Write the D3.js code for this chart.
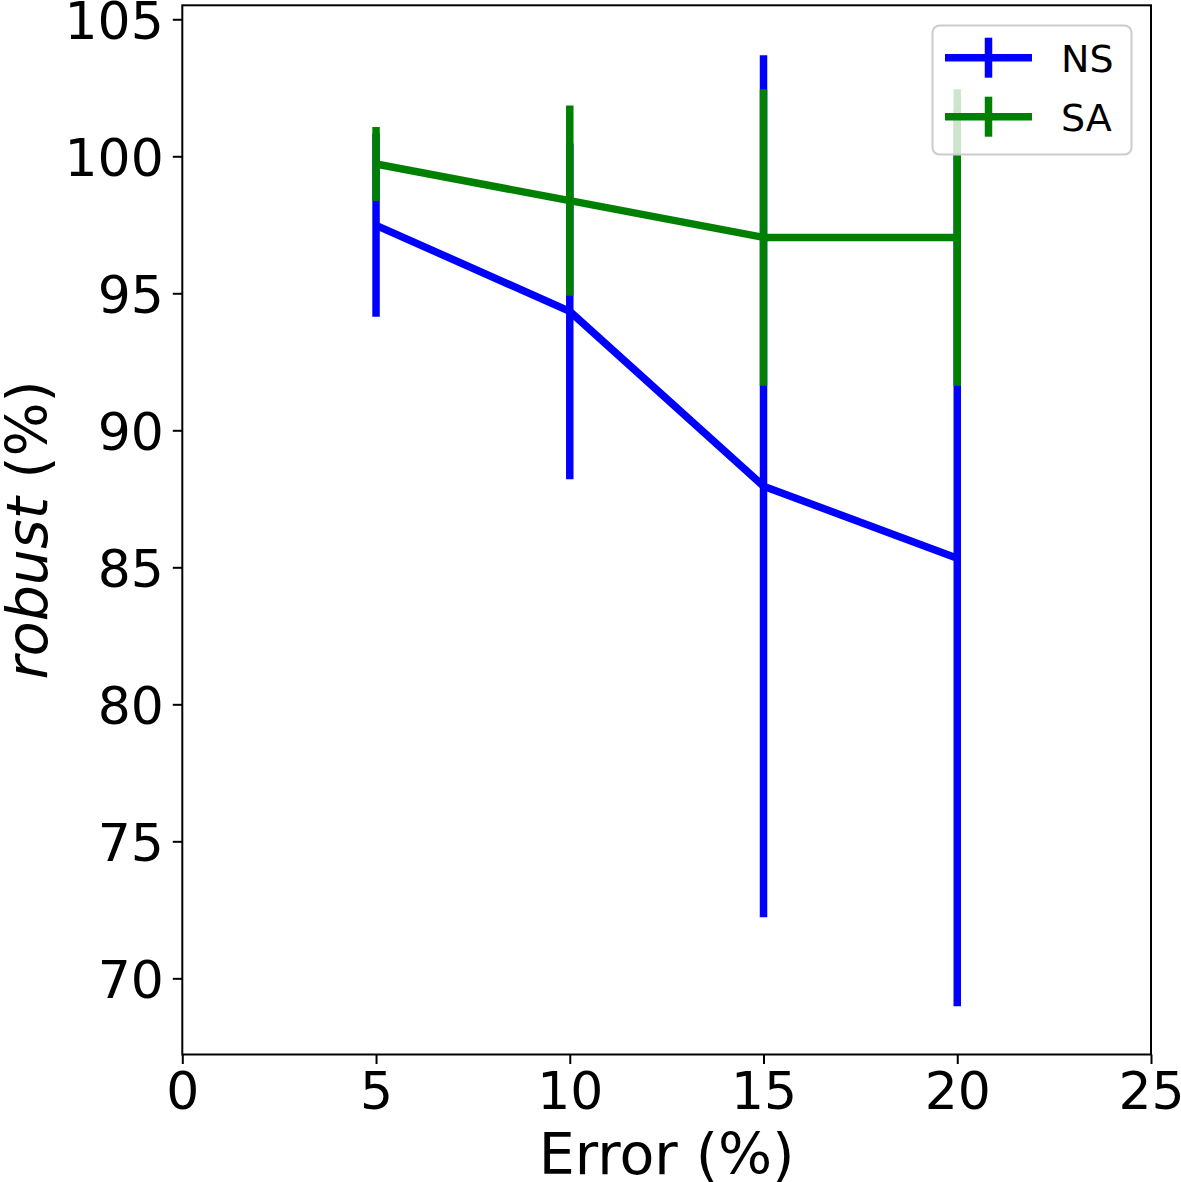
<!DOCTYPE html>
<html><head><meta charset="utf-8">
<script src="https://cdn.jsdelivr.net/npm/d3@7"></script>
<style>body{margin:0;background:#fff}</style>
</head><body>
<svg id="chart" width="1181" height="1182"></svg>
<script>
const errors = [5, 10, 15, 20];
const nsMean = [97.48, 94.34, 87.96, 85.33];
const nsErr  = [3.34, 6.13, 15.73, 16.35];
const saMean = [99.72, 98.38, 97.04, 97.04];
const saErr  = [1.35, 3.47, 5.41, 5.41];
const xTicks = [0, 5, 10, 15, 20, 25];
const yTicks = [70, 75, 80, 85, 90, 95, 100, 105];
const seriesNames = ["NS", "SA"];
const seriesColors = ["#0000ff", "#008000"];

const svg = d3.select("#chart");
const L = 182.3, R = 1151, T = 5.3, B = 1054.5;
const x = d3.scaleLinear().domain([0, 25]).range([L, R]);
const y = d3.scaleLinear().domain([67.22, 105.51]).range([B, T]);
const font = "DejaVu Sans, sans-serif";
const LW = 7.5;

const series = [
  {name: seriesNames[0], color: seriesColors[0], mean: nsMean, err: nsErr},
  {name: seriesNames[1], color: seriesColors[1], mean: saMean, err: saErr}
];

const line = d3.line().x(d => x(d[0])).y(d => y(d[1]));
series.forEach(s => {
  const pts = errors.map((e, i) => [e, s.mean[i]]);
  svg.append("path").attr("d", line(pts)).attr("fill", "none")
    .attr("stroke", s.color).attr("stroke-width", LW).attr("stroke-linejoin", "round");
  svg.selectAll(null).data(errors).enter().append("line")
    .attr("x1", d => x(d)).attr("x2", d => x(d))
    .attr("y1", (d, i) => y(s.mean[i] - s.err[i]))
    .attr("y2", (d, i) => y(s.mean[i] + s.err[i]))
    .attr("stroke", s.color).attr("stroke-width", LW);
});

// axes
const xAxis = d3.axisBottom(x).tickValues(xTicks).tickSize(9.5).tickPadding(8).tickFormat(d3.format("d"));
const gx = svg.append("g").attr("transform", `translate(0,${B})`).call(xAxis);
const yAxis = d3.axisLeft(y).tickValues(yTicks).tickSize(9.5).tickPadding(9).tickFormat(d3.format("d"));
const gy = svg.append("g").attr("transform", `translate(${L},0)`).call(yAxis);
[gx, gy].forEach(g => {
  g.select(".domain").remove();
  g.selectAll(".tick line").attr("stroke", "#000").attr("stroke-width", 2);
  g.selectAll(".tick text").attr("font-family", font).attr("font-size", 52).attr("fill", "#000");
});
gx.selectAll(".tick text").attr("dy", "0.71em");
gy.selectAll(".tick text").attr("dy", "0.36em");

svg.append("rect").attr("x", L).attr("y", T).attr("width", R - L).attr("height", B - T)
  .attr("fill", "none").attr("stroke", "#000").attr("stroke-width", 2);

// axis labels
svg.append("text").attr("x", (L + R) / 2).attr("y", 1174).attr("text-anchor", "middle")
  .attr("font-family", font).attr("font-size", 57).text("Error (%)");
const yl = svg.append("text").attr("transform", `translate(47,${(T + B) / 2}) rotate(-90)`)
  .attr("text-anchor", "middle").attr("font-family", font).attr("font-size", 57);
yl.append("tspan").attr("font-style", "italic").text("robust");
yl.append("tspan").text(" (%)");

// legend
const lg = svg.append("g");
lg.append("rect").attr("x", 932.5).attr("y", 25.5).attr("width", 199).attr("height", 129).attr("rx", 7)
  .attr("fill", "#fff").attr("fill-opacity", 0.8).attr("stroke", "#cccccc").attr("stroke-width", 2);
series.forEach((s, i) => {
  const cy = 57.7 + i * 59;
  lg.append("line").attr("x1", 945).attr("x2", 1032).attr("y1", cy).attr("y2", cy)
    .attr("stroke", s.color).attr("stroke-width", LW);
  lg.append("line").attr("x1", 988.5).attr("x2", 988.5).attr("y1", cy - 20).attr("y2", cy + 20)
    .attr("stroke", s.color).attr("stroke-width", LW);
  lg.append("text").attr("x", 1061).attr("y", cy + 14).attr("font-family", font).attr("font-size", 38)
    .text(s.name);
});
</script>
</body></html>
